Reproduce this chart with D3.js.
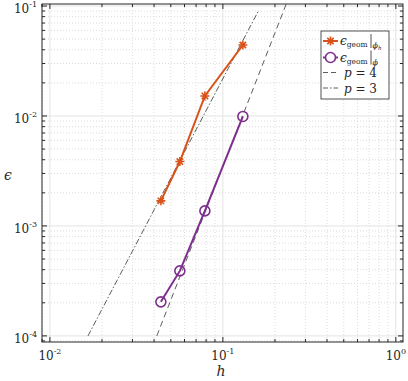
<!DOCTYPE html>
<html>
<head>
<meta charset="utf-8">
<script src="https://cdn.jsdelivr.net/npm/d3@7"></script>
<style>
	body { margin: 0; background: #fff; }
</style>
</head>
<body>
<div class="chart"></div>
<script>

// data
const hValues = [0.0438, 0.0564, 0.0787, 0.1305];
const errPhiH = [0.00169, 0.00385, 0.0152, 0.0442];
const errPhi = [0.000204, 0.00039, 0.00137, 0.0099];
// reference slope lines, end points
const refP4H = [0.0415, 0.25];
const refP4E = [1.0e-4, 0.14];
const refP3H = [0.0166, 0.16];
const refP3E = [1.0e-4, 0.0895];
const xTickExps = [-2, -1, 0];
const yTickExps = [-4, -3, -2, -1];

const width = 408;
const height = 381;
const orange = "#D95319";
const purple = "#7E2F8E";
const serif = "'DejaVu Serif', serif";

const x = d3.scaleLog().domain([0.009, 1.1]).range([42, 403]);
const y = d3.scaleLog().domain([8.8e-5, 0.1043]).range([342, 4]);

const svg = d3.select(".chart")
	.append("svg")
		.attr("width", width)
		.attr("height", height)
		.style("font-family", serif);

svg.append("defs").append("clipPath")
	.attr("id", "plot-clip")
	.append("rect")
		.attr("x", x.range()[0])
		.attr("y", y.range()[1])
		.attr("width", x.range()[1] - x.range()[0])
		.attr("height", y.range()[0] - y.range()[1]);

const isMajor = (v) => Math.abs(Math.log10(v) - Math.round(Math.log10(v))) < 1e-9;
const xTicks = x.ticks().filter((v) => v >= x.domain()[0] && v <= x.domain()[1]);
const yTicks = y.ticks().filter((v) => v >= y.domain()[0] && v <= y.domain()[1]);

// grid
const grid = svg.append("g").attr("class", "grid");
grid.selectAll(".gx")
	.data(xTicks).enter()
	.append("line")
		.attr("x1", (d) => x(d)).attr("x2", (d) => x(d))
		.attr("y1", y.range()[1]).attr("y2", y.range()[0])
		.attr("stroke", (d) => isMajor(d) ? "#e3e3e3" : "#dcdcdc")
		.attr("stroke-dasharray", (d) => isMajor(d) ? null : "1,2");
grid.selectAll(".gy")
	.data(yTicks).enter()
	.append("line")
		.attr("y1", (d) => y(d)).attr("y2", (d) => y(d))
		.attr("x1", x.range()[0]).attr("x2", x.range()[1])
		.attr("stroke", (d) => isMajor(d) ? "#e3e3e3" : "#dcdcdc")
		.attr("stroke-dasharray", (d) => isMajor(d) ? null : "1,2");

// reference lines
const plot = svg.append("g").attr("clip-path", "url(#plot-clip)");
const line = d3.line().x((d) => x(d[0])).y((d) => y(d[1]));

plot.append("path")
	.datum(d3.zip(refP4H, refP4E))
	.attr("d", line)
	.attr("fill", "none")
	.attr("stroke", "#333")
	.attr("stroke-width", 0.8)
	.attr("stroke-dasharray", "6,4");

plot.append("path")
	.datum(d3.zip(refP3H, refP3E))
	.attr("d", line)
	.attr("fill", "none")
	.attr("stroke", "#333")
	.attr("stroke-width", 0.8)
	.attr("stroke-dasharray", "6,2,1.5,2");

// star marker (MATLAB '*')
const starPath = (r) => {
	const a = r * Math.SQRT1_2;
	return `M${-r},0L${r},0M0,${-r}L0,${r}M${-a},${-a}L${a},${a}M${-a},${a}L${a},${-a}`;
};

// phi_h series
plot.append("path")
	.datum(d3.zip(hValues, errPhiH))
	.attr("d", line)
	.attr("fill", "none")
	.attr("stroke", orange)
	.attr("stroke-width", 2);
plot.selectAll(".star")
	.data(d3.zip(hValues, errPhiH)).enter()
	.append("path")
		.attr("class", "star")
		.attr("transform", (d) => `translate(${x(d[0])},${y(d[1])})`)
		.attr("d", starPath(4.5))
		.attr("stroke", orange)
		.attr("stroke-width", 1.6);

// phi series
plot.append("path")
	.datum(d3.zip(hValues, errPhi))
	.attr("d", line)
	.attr("fill", "none")
	.attr("stroke", purple)
	.attr("stroke-width", 2);
plot.selectAll(".circ")
	.data(d3.zip(hValues, errPhi)).enter()
	.append("circle")
		.attr("class", "circ")
		.attr("cx", (d) => x(d[0]))
		.attr("cy", (d) => y(d[1]))
		.attr("r", 5)
		.attr("fill", "none")
		.attr("stroke", purple)
		.attr("stroke-width", 1.6);

// axes box with inward ticks on all sides
const axes = svg.append("g").attr("class", "axes").attr("stroke", "#262626");
axes.append("rect")
	.attr("x", x.range()[0]).attr("y", y.range()[1])
	.attr("width", x.range()[1] - x.range()[0])
	.attr("height", y.range()[0] - y.range()[1])
	.attr("fill", "none")
	.attr("stroke-width", 1);

const tickLen = (d) => isMajor(d) ? 5 : 3;
xTicks.forEach((d) => {
	axes.append("line").attr("x1", x(d)).attr("x2", x(d))
		.attr("y1", y.range()[0]).attr("y2", y.range()[0] - tickLen(d));
	axes.append("line").attr("x1", x(d)).attr("x2", x(d))
		.attr("y1", y.range()[1]).attr("y2", y.range()[1] + tickLen(d));
});
yTicks.forEach((d) => {
	axes.append("line").attr("y1", y(d)).attr("y2", y(d))
		.attr("x1", x.range()[0]).attr("x2", x.range()[0] + tickLen(d));
	axes.append("line").attr("y1", y(d)).attr("y2", y(d))
		.attr("x1", x.range()[1]).attr("x2", x.range()[1] - tickLen(d));
});

// tick labels
const xLabels = svg.selectAll(".x-label")
	.data(xTickExps).enter()
	.append("text")
		.attr("class", "x-label")
		.attr("x", (d) => x(Math.pow(10, d)))
		.attr("y", 360)
		.attr("text-anchor", "middle")
		.attr("fill", "#262626")
		.attr("font-size", 12);
xLabels.append("tspan").text("10");
xLabels.append("tspan").attr("dy", -6).attr("font-size", 8).text((d) => d);

const yLabels = svg.selectAll(".y-label")
	.data(yTickExps).enter()
	.append("text")
		.attr("class", "y-label")
		.attr("x", 37)
		.attr("y", (d) => y(Math.pow(10, d)) + 7)
		.attr("text-anchor", "end")
		.attr("fill", "#262626")
		.attr("font-size", 12);
yLabels.append("tspan").text("10");
yLabels.append("tspan").attr("dy", -6).attr("font-size", 8).text((d) => d);

// axis titles
svg.append("text")
	.attr("x", 221)
	.attr("y", 376)
	.attr("text-anchor", "middle")
	.attr("font-size", 14)
	.attr("font-style", "italic")
	.attr("fill", "#262626")
	.text("h");

svg.append("text")
	.attr("x", 8)
	.attr("y", 180)
	.attr("text-anchor", "middle")
	.attr("font-size", 14)
	.attr("font-style", "italic")
	.attr("fill", "#262626")
	.text("\u03F5");

// legend
const legend = svg.append("g").attr("class", "legend").attr("transform", "translate(321,31)");
legend.append("rect")
	.attr("width", 68).attr("height", 68)
	.attr("fill", "#fff")
	.attr("stroke", "#262626")
	.attr("stroke-width", 0.8);

const rows = [10, 26.5, 41.5, 57];
const sample = (g, yy) => g.append("line").attr("x1", 2).attr("x2", 17).attr("y1", yy).attr("y2", yy);

sample(legend, rows[0]).attr("stroke", orange).attr("stroke-width", 2);
legend.append("path").attr("transform", `translate(9.5,${rows[0]})`)
	.attr("d", starPath(4.5)).attr("stroke", orange).attr("stroke-width", 1.6);
sample(legend, rows[1]).attr("stroke", purple).attr("stroke-width", 2);
legend.append("circle").attr("cx", 9.5).attr("cy", rows[1]).attr("r", 5)
	.attr("fill", "#fff").attr("stroke", purple).attr("stroke-width", 1.6);
sample(legend, rows[2]).attr("stroke", "#333").attr("stroke-width", 0.8).attr("stroke-dasharray", "5,3");
sample(legend, rows[3]).attr("stroke", "#333").attr("stroke-width", 0.8).attr("stroke-dasharray", "5,2,1.5,2");

const epsLabel = (yy, sub, subsub) => {
	const t = legend.append("text").attr("x", 19).attr("y", yy + 4).attr("font-size", 12).attr("fill", "#262626");
	t.append("tspan").attr("font-style", "italic").text("\u03F5");
	t.append("tspan").attr("font-size", 7.5).attr("dy", 2).text("geom");
	legend.append("line")
		.attr("x1", 50).attr("x2", 50).attr("y1", yy - 7).attr("y2", yy + 7)
		.attr("stroke", "#262626").attr("stroke-width", 0.8);
	const s = legend.append("text").attr("x", 51.5).attr("y", yy + 7).attr("font-size", 8)
		.attr("font-style", "italic").attr("fill", "#262626");
	s.append("tspan").text(sub);
	if (subsub) s.append("tspan").attr("font-size", 5.5).attr("dy", 2).text(subsub);
};
epsLabel(rows[0], "\u03D5", "h");
epsLabel(rows[1], "\u03D5", null);

const pLabel = (yy, p) => {
	const t = legend.append("text").attr("x", 23).attr("y", yy + 4.5).attr("font-size", 12).attr("fill", "#262626");
	t.append("tspan").attr("font-style", "italic").text("p");
	t.append("tspan").text(` = ${p}`);
};
pLabel(rows[2], 4);
pLabel(rows[3], 3);

</script>
</body>
</html>
